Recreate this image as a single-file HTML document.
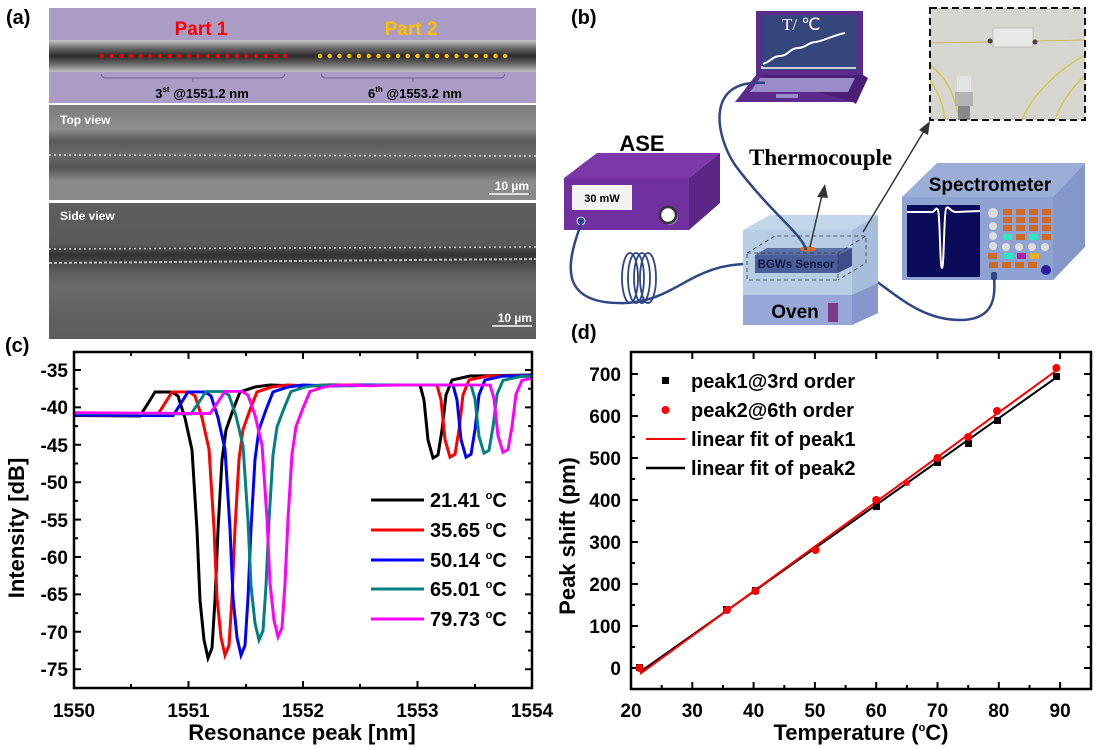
<!DOCTYPE html>
<html><head><meta charset="utf-8"><style>
html,body{margin:0;padding:0;background:#fff;}
svg{display:block;font-family:"Liberation Sans",Arial,sans-serif;}
</style></head><body>
<svg width="1096" height="749" viewBox="0 0 1096 749" xmlns="http://www.w3.org/2000/svg">
<defs>
<linearGradient id="fib" x1="0" y1="0" x2="0" y2="1">
<stop offset="0" stop-color="#c8c8c8"/><stop offset="0.25" stop-color="#6a6a6a"/><stop offset="0.5" stop-color="#2a2a2a"/><stop offset="0.75" stop-color="#6a6a6a"/><stop offset="1" stop-color="#c0c0c0"/></linearGradient>
<linearGradient id="top" x1="0" y1="0" x2="0" y2="1">
<stop offset="0" stop-color="#7c7c7c"/><stop offset="0.25" stop-color="#8e8e8e"/><stop offset="0.38" stop-color="#5a5a5a"/><stop offset="0.52" stop-color="#6a6a6a"/><stop offset="0.66" stop-color="#555"/><stop offset="0.8" stop-color="#8a8a8a"/><stop offset="1" stop-color="#8a8a8a"/></linearGradient>
<linearGradient id="side" x1="0" y1="0" x2="0" y2="1">
<stop offset="0" stop-color="#5e5e5e"/><stop offset="0.3" stop-color="#5a5a5a"/><stop offset="0.38" stop-color="#333"/><stop offset="0.5" stop-color="#5a5a5a"/><stop offset="0.6" stop-color="#6a6a6a"/><stop offset="1" stop-color="#5c5c5c"/></linearGradient>
<clipPath id="cc"><rect x="74" y="352" width="458" height="336"/></clipPath>
<path id="curve" fill="none" stroke-width="3" d="M0,415 L140,416 L147,405 L155,392 L172,392 L178,396 L185,418 L192,450 L197,530 L200,600 L204,640 L208,658 L212,648 L215,600 L218,530 L222,460 L226,430 L233,410 L240,392 L255,387 L270,385 L300,386 L330,385 L420,385 L424,400 L428,440 L433,458 L438,455 L442,430 L446,395 L452,380 L470,376 L600,374"/>
</defs>

<!-- Panel a -->
<text x="6" y="24" font-size="20" font-weight="bold">(a)</text>
<rect x="49" y="8" width="487" height="95" fill="#ab9cc6"/>
<rect x="49" y="40" width="487" height="32" fill="url(#fib)"/>
<text x="201" y="35" font-size="19" font-weight="bold" fill="#ff0000" text-anchor="middle">Part 1</text>
<text x="411" y="35" font-size="19" font-weight="bold" fill="#ffc000" text-anchor="middle">Part 2</text>
<g fill="#ff0000">
<circle cx="102" cy="56" r="2.2"/><circle cx="111.6" cy="56" r="2.2"/><circle cx="121.3" cy="56" r="2.2"/><circle cx="130.9" cy="56" r="2.2"/><circle cx="140.5" cy="56" r="2.2"/><circle cx="150.2" cy="56" r="2.2"/><circle cx="159.8" cy="56" r="2.2"/><circle cx="169.4" cy="56" r="2.2"/><circle cx="179" cy="56" r="2.2"/><circle cx="188.7" cy="56" r="2.2"/><circle cx="198.3" cy="56" r="2.2"/><circle cx="207.9" cy="56" r="2.2"/><circle cx="217.6" cy="56" r="2.2"/><circle cx="227.2" cy="56" r="2.2"/><circle cx="236.8" cy="56" r="2.2"/><circle cx="246.5" cy="56" r="2.2"/><circle cx="256.1" cy="56" r="2.2"/><circle cx="265.7" cy="56" r="2.2"/><circle cx="275.4" cy="56" r="2.2"/><circle cx="285" cy="56" r="2.2"/></g>
<g fill="#ffc000">
<circle cx="320" cy="56" r="2.2"/><circle cx="329.7" cy="56" r="2.2"/><circle cx="339.5" cy="56" r="2.2"/><circle cx="349.2" cy="56" r="2.2"/><circle cx="359" cy="56" r="2.2"/><circle cx="368.7" cy="56" r="2.2"/><circle cx="378.5" cy="56" r="2.2"/><circle cx="388.2" cy="56" r="2.2"/><circle cx="398" cy="56" r="2.2"/><circle cx="407.7" cy="56" r="2.2"/><circle cx="417.5" cy="56" r="2.2"/><circle cx="427.2" cy="56" r="2.2"/><circle cx="437" cy="56" r="2.2"/><circle cx="446.7" cy="56" r="2.2"/><circle cx="456.5" cy="56" r="2.2"/><circle cx="466.2" cy="56" r="2.2"/><circle cx="476" cy="56" r="2.2"/><circle cx="485.7" cy="56" r="2.2"/><circle cx="495.5" cy="56" r="2.2"/><circle cx="505" cy="56" r="2.2"/></g>
<g stroke="#6f5f95" fill="none" stroke-width="1">
<path d="M101,74 Q102,78 106,78 L280,78 Q284,78 285,74"/><path d="M193,78 L193,82"/>
<path d="M321,74 Q322,78 326,78 L500,78 Q504,78 505,74"/><path d="M413,78 L413,82"/></g>
<text x="202" y="98" font-size="13" font-weight="bold" text-anchor="middle">3<tspan font-size="8" dy="-6">st</tspan><tspan dy="6"> @1551.2 nm</tspan></text>
<text x="415" y="98" font-size="13" font-weight="bold" text-anchor="middle">6<tspan font-size="8" dy="-6">th</tspan><tspan dy="6"> @1553.2 nm</tspan></text>
<rect x="49" y="105" width="487" height="95" fill="url(#top)"/>
<line x1="49" y1="155" x2="536" y2="156" stroke="#d8d8d8" stroke-width="1.6" stroke-dasharray="2 3"/>
<text x="60" y="124" font-size="12" font-weight="bold" fill="#fff">Top view</text>
<text x="529" y="190" font-size="12" font-weight="bold" fill="#fff" text-anchor="end">10 µm</text>
<line x1="489" y1="194" x2="529" y2="194" stroke="#fff" stroke-width="1.5"/>
<rect x="49" y="203" width="487" height="136" fill="url(#side)"/>
<line x1="49" y1="249" x2="536" y2="247" stroke="#cfcfcf" stroke-width="1.5" stroke-dasharray="2 3"/>
<line x1="49" y1="263" x2="536" y2="259" stroke="#bbb" stroke-width="2" stroke-dasharray="3 2"/>
<text x="60" y="220" font-size="12" font-weight="bold" fill="#fff">Side view</text>
<text x="532" y="322" font-size="12" font-weight="bold" fill="#fff" text-anchor="end">10 µm</text>
<line x1="492" y1="326" x2="532" y2="326" stroke="#fff" stroke-width="1.5"/>

<!-- Panel b -->
<text x="571" y="24" font-size="20" font-weight="bold">(b)</text>
<rect x="756" y="11" width="107" height="64" fill="#5b2c8c"/>
<rect x="761" y="15" width="97" height="55" fill="#34467c"/>
<text x="782" y="30" font-size="17" fill="#fff" font-family="Liberation Serif,serif">T/ ℃</text>
<path d="M762,66 L762,68 L856,68" stroke="#fff" stroke-width="1.5" fill="none"/>
<path d="M763,64 C770,62 773,56 780,56 C788,56 790,48 798,48 C806,48 808,42 816,42 C826,40 834,35 845,33" stroke="#fff" stroke-width="2" fill="none"/>
<polygon points="756,75 863,75 853,102 735,102" fill="#5b2c8c"/>
<polygon points="756,75 863,75 868,78 856,104 853,102" fill="#4a1e75"/>
<polygon points="760,78 855,78 848,92 750,92" fill="#9a8cc8"/>
<rect x="776" y="94" width="22" height="4" fill="#9a8cc8"/>
<rect x="930" y="8" width="155" height="112" fill="#d8d6d0"/>
<path d="M930,43 L1085,40" stroke="#c8b860" stroke-width="1"/>
<rect x="993" y="28" width="40" height="19" fill="#e8e8e6" stroke="#aaa" stroke-width="0.6"/>
<circle cx="990" cy="41" r="2.5" fill="#444"/><circle cx="1035" cy="42" r="2.5" fill="#444"/>
<path d="M930,65 C950,80 955,100 960,120 M1085,55 C1050,75 1030,100 1022,120 M1085,75 C1070,90 1060,105 1055,120 M930,80 C940,95 945,110 944,120" stroke="#d2c84a" stroke-width="1.5" fill="none"/>
<rect x="957" y="76" width="14" height="16" fill="#e4e4e4"/><rect x="955" y="92" width="18" height="14" fill="#b4b4b4"/><rect x="958" y="106" width="12" height="14" fill="#888"/>
<rect x="930" y="8" width="155" height="112" fill="none" stroke="#111" stroke-width="2" stroke-dasharray="7 4"/>
<text x="642" y="151" font-size="22" font-weight="bold" text-anchor="middle">ASE</text>
<polygon points="564,178 597,153 720,153 689,178" fill="#7a38a8"/>
<polygon points="689,178 720,153 720,203 689,230" fill="#5d2585"/>
<rect x="564" y="178" width="125" height="52" fill="#7030a0"/>
<rect x="572" y="185" width="60" height="25" fill="#f2f2f2"/>
<text x="602" y="202" font-size="11" font-weight="bold" text-anchor="middle">30 mW</text>
<circle cx="670" cy="217" r="8" fill="#aaa" opacity="0.6"/>
<circle cx="668" cy="215" r="8" fill="#fff" stroke="#333" stroke-width="2.5"/>
<circle cx="581" cy="221" r="4" fill="#2f4a8a" stroke="#fff" stroke-width="0.8"/>
<g fill="none" stroke="#2f4585" stroke-width="2.5">
<path d="M581,224 C568,260 555,305 625,303 C680,300 690,262 755,264"/>
<ellipse cx="630" cy="278" rx="8" ry="25" stroke-width="1.8"/>
<ellipse cx="636" cy="278" rx="8" ry="25" stroke-width="1.8"/>
<ellipse cx="642" cy="278" rx="8" ry="25" stroke-width="1.8"/>
<ellipse cx="648" cy="278" rx="8" ry="25" stroke-width="1.8"/>
<path d="M838,264 C880,270 905,320 960,320 C992,320 996,300 994,278"/>
</g>
<polygon points="743,230 770,215 878,215 852,230" fill="#c2d6ea"/>
<polygon points="852,230 878,215 878,313 852,325" fill="#a6bedc"/>
<rect x="743" y="230" width="109" height="65" fill="#b6cde5"/>
<rect x="743" y="295" width="109" height="30" fill="#97a7d8"/>
<polygon points="852,295 878,283 878,313 852,325" fill="#8797cc"/>
<text x="795" y="318" font-size="19" font-weight="bold" text-anchor="middle">Oven</text>
<rect x="828" y="303" width="10" height="19" fill="#7e3a8a"/>
<polygon points="755,255 767,248 852,248 838,255" fill="#5a6fa8"/>
<polygon points="838,255 852,248 852,266 838,273" fill="#3d4f88"/>
<rect x="755" y="255" width="83" height="18" fill="#4a5e9a"/>
<text x="796" y="268" font-size="11.5" font-weight="bold" fill="#0d1a40" text-anchor="middle">BGWs Sensor</text>
<ellipse cx="808" cy="249" rx="8" ry="2.5" fill="#d8701e"/>
<g fill="none" stroke="#333" stroke-width="0.8" stroke-dasharray="4 3">
<rect x="747" y="253" width="91" height="27"/><polyline points="747,253 775,236 866,236 866,263 838,280"/><line x1="838" y1="253" x2="866" y2="236"/></g>
<path d="M765,83 C705,78 715,135 735,165 C770,212 803,235 806,250" fill="none" stroke="#2f4585" stroke-width="2.5"/>
<line x1="810" y1="247" x2="822" y2="195" stroke="#333" stroke-width="1.5"/>
<polygon points="825,184 817,197 828,198" fill="#333"/>
<line x1="863" y1="232" x2="924" y2="131" stroke="#333" stroke-width="1.5"/>
<polygon points="930,121 919,130 928,135" fill="#333"/>
<text x="749" y="165" font-size="23" font-weight="bold" font-family="Liberation Serif,serif">Thermocouple</text>
<polygon points="902,197 937,163 1085,163 1053,197" fill="#9aaed8"/>
<polygon points="1053,197 1085,163 1085,247 1053,280" fill="#8398c8"/>
<rect x="902" y="197" width="151" height="83" fill="#8fa3d2"/>
<text x="990" y="191" font-size="19" font-weight="bold" text-anchor="middle">Spectrometer</text>
<rect x="907" y="205" width="73" height="72" fill="#0b0b5a"/>
<path d="M907,212 L932,212 C935,212 936,206 938,210 C940,215 940,268 942,268 C944,268 944,212 946,209 C948,204 950,212 956,212 L980,211" stroke="#fff" stroke-width="2" fill="none"/>
<g fill="#ddd"><circle cx="993" cy="213" r="5"/><circle cx="993" cy="226" r="4"/><circle cx="993" cy="236" r="4"/><circle cx="993" cy="246" r="4"/><circle cx="1006" cy="247" r="4"/><circle cx="1019" cy="247" r="4"/><circle cx="1032" cy="247" r="4"/><circle cx="1045" cy="247" r="4"/></g>
<g fill="#d06a20">
<rect x="1003" y="209" width="9" height="6"/><rect x="1016" y="209" width="9" height="6"/><rect x="1029" y="209" width="9" height="6"/><rect x="1042" y="209" width="9" height="6"/>
<rect x="1003" y="217" width="9" height="6"/><rect x="1016" y="217" width="9" height="6"/><rect x="1029" y="217" width="9" height="6"/><rect x="1042" y="217" width="9" height="6"/>
<rect x="1003" y="225" width="9" height="6"/><rect x="1016" y="225" width="9" height="6"/><rect x="1029" y="225" width="9" height="6"/><rect x="1042" y="225" width="9" height="6"/>
<rect x="1016" y="234" width="9" height="6"/><rect x="1042" y="234" width="9" height="6"/>
<rect x="988" y="253" width="9" height="6"/><rect x="989" y="262" width="9" height="6"/><rect x="1002" y="262" width="9" height="6"/><rect x="1015" y="262" width="9" height="6"/><rect x="1028" y="262" width="9" height="6"/></g>
<rect x="1003" y="234" width="9" height="6" fill="#2ee6c0"/><rect x="1029" y="234" width="9" height="6" fill="#2ee6c0"/>
<rect x="1004" y="253" width="9" height="6" fill="#2ee6c0"/><rect x="1017" y="253" width="9" height="6" fill="#b020a0"/><rect x="1030" y="253" width="9" height="6" fill="#f0b020"/>
<circle cx="1046" cy="270" r="5" fill="#2a1aa0"/>
<rect x="991" y="272" width="6" height="8" rx="2" fill="#2f4585"/>

<!-- Panel c -->
<text x="5" y="352" font-size="20" font-weight="bold">(c)</text>
<g clip-path="url(#cc)">
<use href="#curve" stroke="#000"/>
<use href="#curve" stroke="#ff0000" transform="matrix(1,0,0,0.99,17,3.85)"/>
<use href="#curve" stroke="#0000ff" transform="matrix(1,0,0,0.99,33,3.85)"/>
<use href="#curve" stroke="#008080" transform="matrix(1,0,0,0.934,51,25.4)"/>
<use href="#curve" stroke="#ff00ff" transform="matrix(1,0,0,0.923,70,29.6)"/>
</g>
<rect x="74" y="352" width="458" height="336" fill="none" stroke="#000" stroke-width="2.5"/>
<g stroke="#000" stroke-width="2">
<path d="M74,688v-7M188.5,688v-7M303,688v-7M417.5,688v-7M131,688v-4M246,688v-4M360,688v-4M475,688v-4"/>
<path d="M74,352v7M188.5,352v7M303,352v7M417.5,352v7M131,352v4M246,352v4M360,352v4M475,352v4"/>
<path d="M74,370h7M74,407.4h7M74,444.8h7M74,482.2h7M74,519.6h7M74,557h7M74,594.4h7M74,631.8h7M74,669.2h7M74,388.7h4M74,426.1h4M74,463.5h4M74,500.9h4M74,538.3h4M74,575.7h4M74,613.1h4M74,650.5h4"/>
<path d="M532,370h-7M532,407.4h-7M532,444.8h-7M532,482.2h-7M532,519.6h-7M532,557h-7M532,594.4h-7M532,631.8h-7M532,669.2h-7M532,388.7h-4M532,426.1h-4M532,463.5h-4M532,500.9h-4M532,538.3h-4M532,575.7h-4M532,613.1h-4M532,650.5h-4"/>
</g>
<g font-size="19" font-weight="bold" text-anchor="end">
<text x="68" y="377">-35</text><text x="68" y="414">-40</text><text x="68" y="452">-45</text><text x="68" y="489">-50</text><text x="68" y="527">-55</text><text x="68" y="564">-60</text><text x="68" y="601">-65</text><text x="68" y="639">-70</text><text x="68" y="676">-75</text></g>
<g font-size="19" font-weight="bold" text-anchor="middle">
<text x="74" y="717">1550</text><text x="188.5" y="717">1551</text><text x="303" y="717">1552</text><text x="417.5" y="717">1553</text><text x="532" y="717">1554</text></g>
<text x="302" y="740" font-size="22" font-weight="bold" text-anchor="middle">Resonance peak [nm]</text>
<text transform="translate(24,528) rotate(-90)" font-size="22" font-weight="bold" text-anchor="middle">Intensity [dB]</text>
<g stroke-width="3">
<line x1="371" y1="500" x2="424" y2="500" stroke="#000"/><line x1="371" y1="530" x2="424" y2="530" stroke="#f00"/><line x1="371" y1="560" x2="424" y2="560" stroke="#00f"/><line x1="371" y1="589" x2="424" y2="589" stroke="#008080"/><line x1="371" y1="619" x2="424" y2="619" stroke="#f0f"/></g>
<g font-size="20" font-weight="bold">
<text x="430" y="507">21.41 <tspan font-size="11" dy="-8">o</tspan><tspan dy="8">C</tspan></text>
<text x="430" y="537">35.65 <tspan font-size="11" dy="-8">o</tspan><tspan dy="8">C</tspan></text>
<text x="430" y="567">50.14 <tspan font-size="11" dy="-8">o</tspan><tspan dy="8">C</tspan></text>
<text x="430" y="596">65.01 <tspan font-size="11" dy="-8">o</tspan><tspan dy="8">C</tspan></text>
<text x="430" y="626">79.73 <tspan font-size="11" dy="-8">o</tspan><tspan dy="8">C</tspan></text></g>

<!-- Panel d -->
<text x="571" y="339" font-size="20" font-weight="bold">(d)</text>
<rect x="631" y="352" width="460" height="337" fill="none" stroke="#000" stroke-width="2.5"/>
<g stroke="#000" stroke-width="2">
<path d="M631,689v-7M692.3,689v-7M753.6,689v-7M814.9,689v-7M876.2,689v-7M937.5,689v-7M998.8,689v-7M1060.1,689v-7M661.7,689v-4M723,689v-4M784.3,689v-4M845.6,689v-4M906.9,689v-4M968.2,689v-4M1029.5,689v-4"/>
<path d="M631,352v7M692.3,352v7M753.6,352v7M814.9,352v7M876.2,352v7M937.5,352v7M998.8,352v7M1060.1,352v7"/>
<path d="M631,668h7M631,626h7M631,584h7M631,542h7M631,500h7M631,458h7M631,416h7M631,374h7M631,647h4M631,605h4M631,563h4M631,521h4M631,479h4M631,437h4M631,395h4M631,689h4"/>
<path d="M1091,668h-7M1091,626h-7M1091,584h-7M1091,542h-7M1091,500h-7M1091,458h-7M1091,416h-7M1091,374h-7M1091,647h-4M1091,605h-4M1091,563h-4M1091,521h-4M1091,479h-4M1091,437h-4M1091,395h-4"/>
</g>
<g font-size="19" font-weight="bold" text-anchor="end">
<text x="621" y="675">0</text><text x="621" y="633">100</text><text x="621" y="591">200</text><text x="621" y="549">300</text><text x="621" y="507">400</text><text x="621" y="465">500</text><text x="621" y="423">600</text><text x="621" y="381">700</text></g>
<g font-size="19" font-weight="bold" text-anchor="middle">
<text x="631" y="717">20</text><text x="692.3" y="717">30</text><text x="753.6" y="717">40</text><text x="814.9" y="717">50</text><text x="876.2" y="717">60</text><text x="937.5" y="717">70</text><text x="998.8" y="717">80</text><text x="1060.1" y="717">90</text></g>
<text x="861" y="740" font-size="22" font-weight="bold" text-anchor="middle">Temperature (<tspan font-size="11" dy="-9">o</tspan><tspan dy="9">C)</tspan></text>
<text transform="translate(575,536) rotate(-90)" font-size="22" font-weight="bold" text-anchor="middle">Peak shift (pm)</text>
<line x1="640" y1="672" x2="1057" y2="377" stroke="#000" stroke-width="2"/>
<line x1="640" y1="674" x2="1057" y2="370" stroke="#f00" stroke-width="2"/>
<g fill="#000">
<rect x="636" y="664" width="7" height="7"/><rect x="723" y="606" width="7" height="7"/><rect x="752" y="587" width="7" height="7"/><rect x="873" y="503" width="7" height="7"/><rect x="934" y="459" width="7" height="7"/><rect x="965" y="440" width="7" height="7"/><rect x="994" y="417" width="7" height="7"/><rect x="1053" y="373" width="7" height="7"/></g>
<g fill="#f00">
<circle cx="639.6" cy="668" r="4"/><circle cx="726.9" cy="610" r="4"/><circle cx="755.4" cy="591" r="4"/><circle cx="815.5" cy="550" r="4"/><circle cx="876.2" cy="500" r="4"/><circle cx="906.9" cy="483" r="3"/><circle cx="937.5" cy="458" r="4"/><circle cx="968.2" cy="437" r="4"/><circle cx="997" cy="411" r="4"/><circle cx="1056.4" cy="368" r="4"/></g>
<rect x="662" y="377" width="7" height="7" fill="#000"/>
<circle cx="665.5" cy="410" r="4" fill="#f00"/>
<line x1="646" y1="439" x2="685" y2="439" stroke="#f00" stroke-width="2"/>
<line x1="646" y1="468" x2="685" y2="468" stroke="#000" stroke-width="2.5"/>
<g font-size="20" font-weight="bold">
<text x="691" y="388">peak1@3rd order</text><text x="691" y="417">peak2@6th order</text><text x="691" y="446">linear fit of peak1</text><text x="691" y="475">linear fit of peak2</text></g>
</svg>
</body></html>
